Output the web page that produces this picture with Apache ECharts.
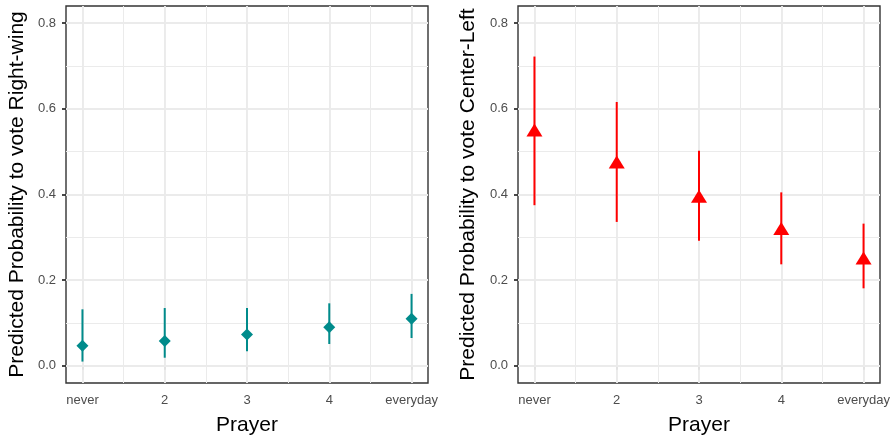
<!DOCTYPE html>
<html>
<head>
<meta charset="utf-8">
<script src="https://cdn.jsdelivr.net/npm/echarts@6/dist/echarts.min.js"></script>
<style>
html,body{margin:0;padding:0;background:#fff;}
#chart{width:895px;height:436px;}
</style>
</head>
<body>
<div id="chart"></div>
<script>
// ---- data ----
var categories = ['never', '2', '3', '4', 'everyday'];
var xPositions = [1, 2, 3, 4, 5];
var rightWingFit = [0.047, 0.058, 0.073, 0.090, 0.110];
var rightWingLow = [0.010, 0.019, 0.034, 0.051, 0.065];
var rightWingHigh = [0.132, 0.135, 0.135, 0.146, 0.168];
var centerLeftFit = [0.546, 0.471, 0.391, 0.316, 0.247];
var centerLeftLow = [0.375, 0.336, 0.292, 0.237, 0.181];
var centerLeftHigh = [0.722, 0.616, 0.502, 0.405, 0.332];
var yTicks = [0, 0.2, 0.4, 0.6, 0.8];
var yMinorTicks = [0.1, 0.3, 0.5, 0.7];
var xMinorTicks = [1.5, 2.5, 3.5, 4.5];
var xTitle = 'Prayer';
var yTitles = ['Predicted Probability to vote Right-wing', 'Predicted Probability to vote Center-Left'];

var chart = echarts.init(document.getElementById('chart'), null, {renderer: 'canvas'});
var FONT = 'Liberation Sans, Arial, Helvetica, sans-serif';

function gridLineData() {
  var d = [];
  yTicks.forEach(function (v) { d.push({yAxis: v, lineStyle: {color: '#EBEBEB', width: 1.9, type: 'solid'}}); });
  yMinorTicks.forEach(function (v) { d.push({yAxis: v, lineStyle: {color: '#EBEBEB', width: 1, type: 'solid'}}); });
  xPositions.forEach(function (v) { d.push({xAxis: v, lineStyle: {color: '#EBEBEB', width: 1.9, type: 'solid'}}); });
  xMinorTicks.forEach(function (v) { d.push({xAxis: v, lineStyle: {color: '#EBEBEB', width: 1, type: 'solid'}}); });
  return d;
}

function makeX(idx) {
  return {
    type: 'value', gridIndex: idx, min: 0.8, max: 5.2,
    axisLine: {show: false},
    splitLine: {show: false},
    axisTick: {show: true, customValues: xPositions, length: 4, lineStyle: {color: '#333333', width: 1.8}},
    axisLabel: {customValues: xPositions, color: '#4D4D4D', fontSize: 13, fontFamily: FONT, margin: 11,
      formatter: function (v) { return categories[Math.round(v) - 1]; }},
    name: xTitle, nameLocation: 'middle', nameGap: 32,
    nameTextStyle: {color: '#000', fontSize: 21, fontFamily: FONT}
  };
}
function makeY(idx) {
  return {
    type: 'value', gridIndex: idx, min: -0.04, max: 0.84,
    axisLine: {show: false},
    splitLine: {show: false},
    axisTick: {show: true, customValues: yTicks, length: 4, lineStyle: {color: '#333333', width: 1.8}},
    axisLabel: {customValues: yTicks, color: '#4D4D4D', fontSize: 13, fontFamily: FONT, margin: 10,
      formatter: function (v) { return v.toFixed(1); }},
    name: yTitles[idx], nameLocation: 'middle', nameGap: idx === 0 ? 38 : 39,
    nameTextStyle: {color: '#000', fontSize: 21, fontFamily: FONT}
  };
}

function errorBarSeries(idx, low, high, color) {
  var data = xPositions.map(function (x, i) { return [x, low[i], high[i]]; });
  return {
    type: 'custom', xAxisIndex: idx, yAxisIndex: idx, z: 3, silent: true,
    data: data,
    encode: {x: 0, y: [1, 2]},
    renderItem: function (params, api) {
      var p1 = api.coord([api.value(0), api.value(1)]);
      var p2 = api.coord([api.value(0), api.value(2)]);
      return {type: 'line', shape: {x1: p1[0], y1: p1[1], x2: p2[0], y2: p2[1]},
        style: {stroke: color, lineWidth: 2}};
    }
  };
}

function gridSeries(idx) {
  return {
    type: 'line', xAxisIndex: idx, yAxisIndex: idx, data: [], z: 1, silent: true,
    markLine: {silent: true, z: 1, symbol: 'none', label: {show: false}, animation: false,
      emphasis: {disabled: true}, data: gridLineData()}
  };
}

var gridBase = {top: 6, width: 362, height: 377, show: true, borderColor: '#333333', borderWidth: 1.4,
  backgroundColor: 'transparent', containLabel: false, outerBoundsMode: 'none'};

var option = {
  animation: false,
  backgroundColor: '#ffffff',
  grid: [
    Object.assign({left: 66}, gridBase),
    Object.assign({left: 518}, gridBase)
  ],
  xAxis: [makeX(0), makeX(1)],
  yAxis: [makeY(0), makeY(1)],
  series: [
    gridSeries(0),
    gridSeries(1),
    errorBarSeries(0, rightWingLow, rightWingHigh, '#008B8B'),
    errorBarSeries(1, centerLeftLow, centerLeftHigh, '#FF0000'),
    {
      type: 'scatter', xAxisIndex: 0, yAxisIndex: 0, z: 4, silent: true,
      symbol: 'diamond', symbolSize: [12, 12],
      itemStyle: {color: '#008B8B', opacity: 1},
      data: xPositions.map(function (x, i) { return [x, rightWingFit[i]]; })
    },
    {
      type: 'scatter', xAxisIndex: 1, yAxisIndex: 1, z: 4, silent: true,
      symbol: 'triangle', symbolSize: [16, 13], symbolOffset: [0, -2],
      itemStyle: {color: '#FF0000', opacity: 1},
      data: xPositions.map(function (x, i) { return [x, centerLeftFit[i]]; })
    }
  ]
};
chart.setOption(option);
</script>
</body>
</html>
